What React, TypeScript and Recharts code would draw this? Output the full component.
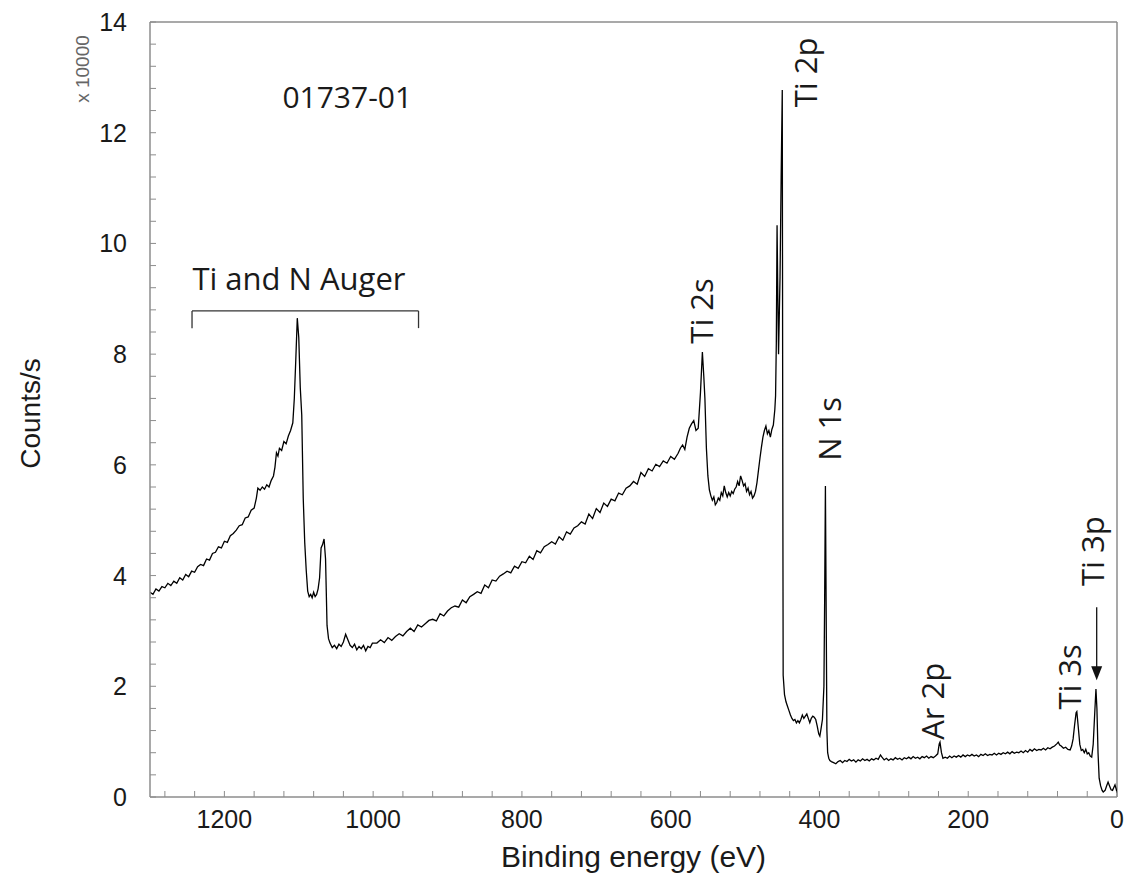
import React from "react";
import {
  LineChart,
  Line,
  XAxis,
  YAxis,
  ReferenceLine,
  ReferenceDot,
} from "recharts";

// [binding energy (eV), counts/s x 10000]
type Pt = [number, number];

// Ti and N Auger region, high binding energy side
const augerRegion: Pt[] = [
  [1300, 3.70], [1296, 3.66], [1292, 3.76], [1288, 3.72], [1284, 3.80], [1280, 3.78],
  [1276, 3.86], [1272, 3.82], [1268, 3.90], [1264, 3.86], [1260, 3.96], [1256, 3.92],
  [1252, 4.02], [1248, 3.98], [1244, 4.08], [1240, 4.06], [1236, 4.16], [1232, 4.20],
  [1228, 4.18], [1224, 4.30], [1220, 4.28], [1216, 4.40], [1212, 4.42], [1208, 4.52],
  [1204, 4.50], [1200, 4.62], [1196, 4.60], [1192, 4.72], [1188, 4.76], [1184, 4.82],
  [1180, 4.90], [1176, 4.92], [1172, 5.04], [1168, 5.06], [1164, 5.18], [1160, 5.22],
  [1157, 5.40], [1155, 5.58], [1152, 5.54], [1149, 5.60], [1146, 5.56], [1143, 5.64],
  [1140, 5.60], [1137, 5.72], [1134, 5.80], [1132, 5.96], [1130, 6.22], [1128, 6.16],
  [1126, 6.30], [1123, 6.26], [1120, 6.42], [1117, 6.38], [1114, 6.52], [1111, 6.62],
  [1108, 6.76], [1106, 7.20], [1104, 7.90], [1102, 8.65], [1100, 8.30], [1098, 7.40],
  [1096, 6.90], [1094, 5.40], [1092, 4.60], [1090, 4.10], [1088, 3.72], [1086, 3.62],
  [1084, 3.66], [1082, 3.60], [1080, 3.70], [1078, 3.62], [1076, 3.66], [1074, 3.76],
  [1072, 3.96], [1070, 4.50], [1068, 4.56], [1066, 4.66], [1064, 4.30], [1062, 3.10],
  [1060, 2.86], [1058, 2.78], [1055, 2.70], [1052, 2.74], [1049, 2.68], [1046, 2.76],
  [1043, 2.72], [1040, 2.80], [1037, 2.94], [1034, 2.84], [1031, 2.74], [1028, 2.70],
  [1025, 2.76], [1022, 2.66], [1019, 2.72], [1016, 2.68], [1013, 2.74], [1010, 2.64],
  [1007, 2.72], [1004, 2.70], [1001, 2.78],
];

// rising inelastic background up to Ti 2s
const backgroundRegion: Pt[] = [
  [995, 2.78], [990, 2.84], [985, 2.79], [980, 2.88], [975, 2.83], [970, 2.90],
  [965, 2.95], [960, 2.91], [955, 2.99], [950, 3.05], [945, 2.99], [940, 3.11],
  [935, 3.07], [930, 3.13], [925, 3.19], [920, 3.21], [915, 3.18], [910, 3.31],
  [905, 3.27], [900, 3.36], [895, 3.42], [890, 3.45], [885, 3.43], [880, 3.56],
  [875, 3.51], [870, 3.62], [865, 3.66], [860, 3.71], [855, 3.68], [850, 3.83],
  [845, 3.78], [840, 3.92], [835, 3.90], [830, 3.99], [825, 4.03], [820, 4.08],
  [815, 4.05], [810, 4.17], [805, 4.13], [800, 4.25], [795, 4.23], [790, 4.35],
  [785, 4.29], [780, 4.45], [775, 4.41], [770, 4.52], [765, 4.56], [760, 4.61],
  [755, 4.57], [750, 4.70], [745, 4.64], [740, 4.79], [735, 4.75], [730, 4.86],
  [725, 4.90], [720, 4.97], [715, 4.93], [710, 5.11], [705, 5.03], [700, 5.21],
  [695, 5.14], [690, 5.31], [685, 5.25], [680, 5.38], [675, 5.35], [670, 5.49],
  [665, 5.46], [660, 5.58], [655, 5.62], [650, 5.70], [645, 5.65], [640, 5.86],
  [635, 5.79], [630, 5.93], [625, 5.89], [620, 6.01], [615, 5.97], [610, 6.07],
  [605, 6.03], [600, 6.15], [595, 6.10], [590, 6.21], [587, 6.30], [584, 6.36],
  [581, 6.28], [578, 6.50], [575, 6.66], [572, 6.74], [569, 6.80], [566, 6.62],
  [563, 6.66],
];

// Ti 2s, Ti 2p and N 1s
const corePeakRegion: Pt[] = [
  [560, 7.30], [557.4, 8.04], [555.5, 7.60], [554, 7.20], [552, 6.30], [550, 5.80],
  [548, 5.55], [546, 5.44], [544, 5.36], [542, 5.42], [540, 5.28], [538, 5.32],
  [536, 5.40], [534, 5.36], [532, 5.50], [530, 5.44], [528, 5.62], [526, 5.50],
  [524, 5.42], [522, 5.50], [520, 5.44], [518, 5.52], [516, 5.48], [514, 5.56],
  [512, 5.60], [510, 5.70], [508, 5.62], [506, 5.80], [504, 5.72], [502, 5.62],
  [500, 5.66], [498, 5.52], [496, 5.58], [494, 5.46], [492, 5.52], [490, 5.40],
  [488, 5.44], [486, 5.52], [484, 5.68], [482, 5.90], [480, 6.12], [478, 6.32],
  [476, 6.50], [474, 6.62], [472, 6.70], [470, 6.56], [468, 6.62], [466, 6.50],
  [464, 6.64], [462, 6.72], [460, 7.00], [459, 7.25], [458, 8.20], [457, 10.33],
  [456, 9.10], [455, 8.00], [453, 9.40], [451.5, 11.20], [450, 12.77], [449.3, 6.00],
  [448.8, 2.20], [447, 1.85], [445, 1.72], [443, 1.64], [441, 1.56], [439, 1.48],
  [437, 1.42], [435, 1.38], [433, 1.40], [431, 1.34], [429, 1.38], [427, 1.34],
  [425, 1.40], [423, 1.48], [421, 1.42], [419, 1.46], [417, 1.50], [415, 1.42],
  [413, 1.34], [411, 1.42], [409, 1.46], [407, 1.44], [405, 1.40], [403, 1.28],
  [401, 1.14], [399.5, 1.10], [398, 1.22], [396, 1.40], [394, 2.00], [393, 3.60],
  [392, 5.62], [391, 3.40], [390, 1.20], [389, 0.80], [387.5, 0.70], [386, 0.66],
];

// low binding energy side: Ar 2p, Ti 3s, Ti 3p and valence band
const lowEnergyRegion: Pt[] = [
  [384, 0.64], [381, 0.62], [378, 0.60], [375, 0.64], [372, 0.66], [369, 0.62],
  [366, 0.66], [363, 0.64], [360, 0.68], [357, 0.65], [354, 0.67], [351, 0.63],
  [348, 0.67], [345, 0.65], [342, 0.69], [339, 0.66], [336, 0.68], [333, 0.65],
  [330, 0.69], [327, 0.67], [324, 0.70], [321, 0.68], [318, 0.76], [316, 0.72],
  [313, 0.67], [310, 0.70], [307, 0.66], [304, 0.69], [301, 0.67], [298, 0.71],
  [295, 0.68], [292, 0.70], [289, 0.67], [286, 0.71], [283, 0.69], [280, 0.72],
  [277, 0.69], [274, 0.73], [271, 0.70], [268, 0.72], [265, 0.69], [262, 0.73],
  [259, 0.71], [256, 0.74], [253, 0.70], [250, 0.73], [247, 0.71], [244, 0.74],
  [241, 0.78], [239, 0.96], [238, 0.99], [236, 0.80], [234, 0.70], [231, 0.72],
  [228, 0.70], [225, 0.74], [222, 0.71], [219, 0.74], [216, 0.72], [213, 0.75],
  [210, 0.72], [207, 0.76], [204, 0.73], [201, 0.76], [198, 0.74], [195, 0.77],
  [192, 0.74], [189, 0.76], [186, 0.73], [183, 0.77], [180, 0.75], [177, 0.78],
  [174, 0.75], [171, 0.77], [168, 0.76], [165, 0.79], [162, 0.76], [159, 0.79],
  [156, 0.77], [153, 0.80], [150, 0.78], [147, 0.81], [144, 0.78], [141, 0.82],
  [138, 0.79], [135, 0.81], [132, 0.80], [129, 0.83], [126, 0.80], [123, 0.84],
  [120, 0.81], [117, 0.86], [114, 0.83], [111, 0.87], [108, 0.84], [105, 0.86],
  [102, 0.85], [99, 0.88], [96, 0.85], [93, 0.89], [90, 0.87], [87, 0.90],
  [84, 0.92], [81, 0.96], [79, 0.99], [77, 0.94], [75, 0.92], [72, 0.88],
  [69, 0.90], [66, 0.86], [63, 0.85], [61, 0.92], [59, 1.05], [57, 1.30],
  [55, 1.52], [54, 1.54], [52, 1.25], [50, 0.95], [48, 0.84], [46, 0.86],
  [44, 0.80], [42, 0.86], [40, 0.78], [38, 0.80], [36, 0.74], [34, 0.72],
  [32, 0.95], [30, 1.50], [28.3, 1.95], [27, 1.60], [25.5, 0.80], [24, 0.34],
  [22, 0.20], [20, 0.12], [18.5, 0.09], [16, 0.12], [14, 0.20], [12, 0.27],
  [10, 0.20], [8, 0.13], [6, 0.12], [4, 0.18], [2.7, 0.22], [1, 0.14], [0, 0.08],
];

const xTicks = [
  0, 40, 80, 120, 160, 200, 240, 280, 320, 360, 400, 440, 480, 520, 560, 600, 640,
  680, 720, 760, 800, 840, 880, 920, 960, 1000, 1040, 1080, 1120, 1160, 1200, 1240, 1280,
];
const yTicks = [
  0, 0.4, 0.8, 1.2, 1.6, 2, 2.4, 2.8, 3.2, 3.6, 4, 4.4, 4.8, 5.2, 5.6, 6, 6.4, 6.8,
  7.2, 7.6, 8, 8.4, 8.8, 9.2, 9.6, 10, 10.4, 10.8, 11.2, 11.6, 12, 12.4, 12.8, 13.2, 13.6, 14,
];

const peakLabels = [
  { text: "Ti 2p", energy: 403, counts: 13.09 },
  { text: "Ti 2s", energy: 543, counts: 8.78 },
  { text: "N 1s", energy: 371, counts: 6.65 },
  { text: "Ar 2p", energy: 233, counts: 1.73 },
  { text: "Ti 3s", energy: 48, counts: 2.17 },
  { text: "Ti 3p", energy: 17, counts: 4.44 },
];

const spectrum = [...augerRegion, ...backgroundRegion, ...corePeakRegion, ...lowEnergyRegion].map(
  ([energy, counts]) => ({ energy, counts })
);

const AXIS = "#8c8c8c";
const TEXT = "#1a1a1a";
const AXIS_FONT = "'Liberation Sans', Arial, sans-serif";
const NOTE_FONT = "'Open Sans', 'Noto Sans', sans-serif";

const XTick = (props: any) => {
  const { x, y, payload } = props;
  const v = payload.value;
  return (
    <g>
      <line x1={x} x2={x} y1={y} y2={y - 6} stroke={AXIS} strokeWidth={1} />
      {v % 200 === 0 && (
        <text x={x} y={y + 31} textAnchor="middle" fontSize={25} fontFamily={AXIS_FONT} fill={TEXT}>
          {v}
        </text>
      )}
    </g>
  );
};

const YTick = (props: any) => {
  const { x, y, payload } = props;
  const v = payload.value;
  const major = Math.abs(v / 2 - Math.round(v / 2)) < 1e-6;
  return (
    <g>
      <line x1={x} x2={x + 6} y1={y} y2={y} stroke={AXIS} strokeWidth={1} />
      {major && (
        <text x={x - 23} y={y} dy="0.36em" textAnchor="end" fontSize={25} fontFamily={AXIS_FONT} fill={TEXT}>
          {Math.round(v)}
        </text>
      )}
    </g>
  );
};

const YLabel = (props: any) => {
  const vb = props.viewBox;
  const cy = vb.y + vb.height / 2;
  return (
    <g>
      <text
        transform={`translate(${vb.x + 40},${cy + 4}) rotate(-90)`}
        textAnchor="middle"
        fontSize={28}
        fontFamily={AXIS_FONT}
        fill={TEXT}
      >
        Counts/s
      </text>
      <text
        transform={`translate(${vb.x + 89},${vb.y + 47}) rotate(-90)`}
        textAnchor="middle"
        fontSize={19}
        fontFamily={AXIS_FONT}
        fill="#666"
      >
        x 10000
      </text>
    </g>
  );
};

const XLabel = (props: any) => {
  const vb = props.viewBox;
  return (
    <text
      x={vb.x + vb.width / 2}
      y={vb.y + 70}
      textAnchor="middle"
      fontSize={30}
      fontFamily={AXIS_FONT}
      fill={TEXT}
    >
      Binding energy (eV)
    </text>
  );
};

export default function App() {
  return (
    <div style={{ position: "absolute", left: 0, top: 0, background: "#fff" }}>
      <LineChart
        width={1130}
        height={889}
        data={spectrum}
        margin={{ top: 22, right: 13, left: 0, bottom: 0 }}
      >
        <XAxis
          dataKey="energy"
          type="number"
          domain={[0, 1300]}
          reversed
          allowDataOverflow
          ticks={xTicks}
          interval={0}
          tickLine={false}
          tickSize={0}
          tickMargin={0}
          axisLine={{ stroke: AXIS, strokeWidth: 1.5 }}
          tick={<XTick />}
          height={92}
          label={<XLabel />}
        />
        <YAxis
          type="number"
          domain={[0, 14]}
          allowDataOverflow
          ticks={yTicks}
          interval={0}
          tickLine={false}
          tickSize={0}
          tickMargin={0}
          axisLine={{ stroke: AXIS, strokeWidth: 1.5 }}
          tick={<YTick />}
          width={150}
          label={<YLabel />}
        />
        <ReferenceLine y={14} stroke={AXIS} strokeWidth={1.5} ifOverflow="visible" />
        <ReferenceLine x={0} stroke={AXIS} strokeWidth={1.5} ifOverflow="visible" />

        {/* Auger bracket */}
        <ReferenceLine
          segment={[{ x: 1243.5, y: 8.47 }, { x: 1243.5, y: 8.78 }]}
          stroke="#333"
          strokeWidth={1.3}
          ifOverflow="visible"
        />
        <ReferenceLine
          segment={[{ x: 1243.5, y: 8.78 }, { x: 939, y: 8.78 }]}
          stroke="#333"
          strokeWidth={1.3}
          ifOverflow="visible"
        />
        <ReferenceLine
          segment={[{ x: 939, y: 8.78 }, { x: 939, y: 8.47 }]}
          stroke="#333"
          strokeWidth={1.3}
          ifOverflow="visible"
        />

        {/* Ti 3p arrow */}
        <ReferenceLine
          segment={[{ x: 27.3, y: 3.43 }, { x: 27.3, y: 2.3 }]}
          stroke="#111"
          strokeWidth={1.3}
          ifOverflow="visible"
        />
        <ReferenceDot
          x={27.3}
          y={2.11}
          r={0}
          ifOverflow="visible"
          shape={(p: any) => (
            <path
              d={`M${p.cx},${p.cy} L${p.cx - 5.5},${p.cy - 14} L${p.cx + 5.5},${p.cy - 14} Z`}
              fill="#111"
            />
          )}
        />

        <ReferenceDot
          x={1122}
          y={12.45}
          r={0}
          ifOverflow="visible"
          shape={(p: any) => (
            <text x={p.cx} y={p.cy} fontSize={30} fontFamily={NOTE_FONT} fill={TEXT}>
              01737-01
            </text>
          )}
        />
        <ReferenceDot
          x={1243}
          y={9.16}
          r={0}
          ifOverflow="visible"
          shape={(p: any) => (
            <text x={p.cx} y={p.cy} fontSize={31} fontFamily={NOTE_FONT} fill={TEXT}>
              Ti and N Auger
            </text>
          )}
        />
        {peakLabels.map((l) => (
          <ReferenceDot
            key={l.text}
            x={l.energy}
            y={l.counts}
            r={0}
            ifOverflow="visible"
            shape={(p: any) => (
              <text
                transform={`translate(${p.cx},${p.cy}) rotate(-90)`}
                textAnchor="middle"
                fontSize={31}
                fontFamily={NOTE_FONT}
                fill={TEXT}
              >
                {l.text}
              </text>
            )}
          />
        ))}

        <Line
          type="linear"
          dataKey="counts"
          stroke="#000"
          strokeWidth={1.3}
          dot={false}
          isAnimationActive={false}
        />
      </LineChart>
    </div>
  );
}
